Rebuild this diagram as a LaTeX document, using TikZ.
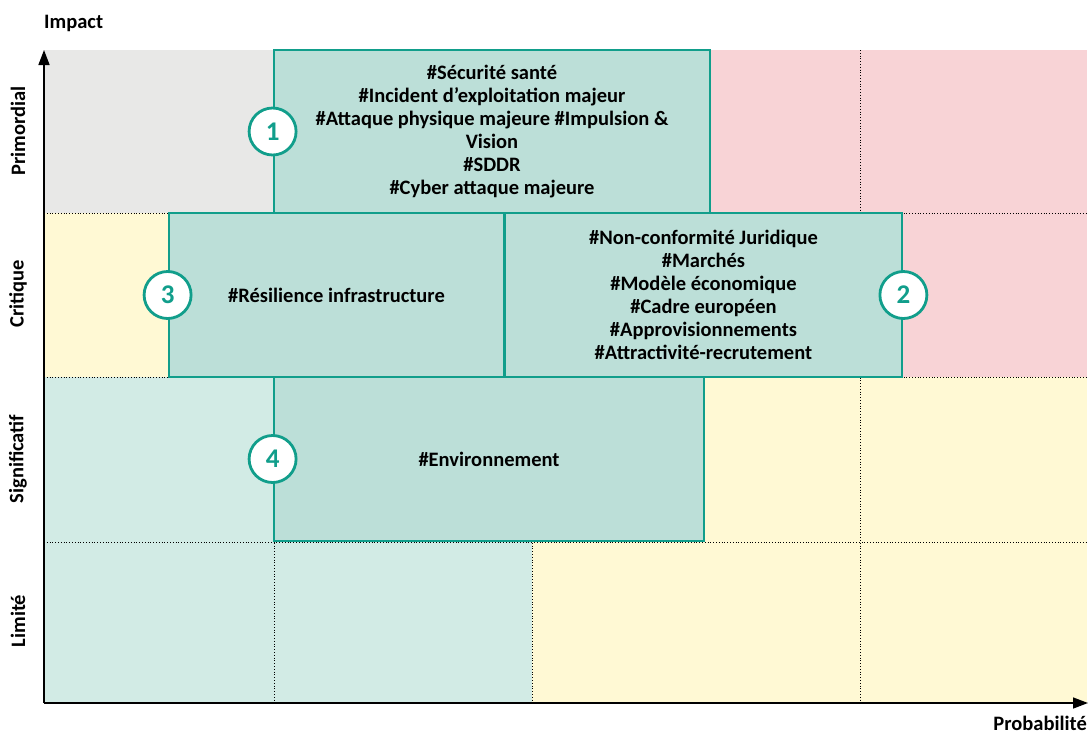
\documentclass[tikz,border=0pt]{standalone}
\usepackage{fontspec}
\setmainfont{Carlito}
\usetikzlibrary{arrows.meta}
\definecolor{greycell}{HTML}{E8E8E7}
\definecolor{pinkcell}{HTML}{F8D3D6}
\definecolor{yellowcell}{HTML}{FFF9D4}
\definecolor{mintcell}{HTML}{D2EBE5}
\definecolor{boxfill}{HTML}{BCDFD8}
\definecolor{riskteal}{HTML}{119E8B}
\tikzset{riskbox/.style={draw=riskteal, line width=2.8pt, fill=boxfill, align=center, inner sep=0pt, font=\bfseries\fontsize{20.5}{23}\selectfont},
badge/.style={circle, draw=riskteal, line width=2.8pt, fill=white, text=riskteal, minimum size=47pt, inner sep=0pt, font=\bfseries\fontsize{27}{27}\selectfont},
%row names on the impact axis
level/.style={rotate=90, font=\bfseries\fontsize{20.5}{20.5}\selectfont},
gridline/.style={dotted, line width=0.8pt},
axis/.style={line width=1.5pt, -{Triangle[length=15pt,width=11pt]}}}

\begin{document}
\begin{tikzpicture}[x=1pt,y=-1pt]
		\useasboundingbox (0,0) rectangle (1090,734);

		\fill[greycell] (44,50) rectangle (532,213);
		\fill[pinkcell] (532,50) rectangle (1087,377);
		\fill[yellowcell] (44,213) rectangle (532,377);
		\fill[mintcell] (44,377) rectangle (532,703);
		\fill[yellowcell] (532,377) rectangle (1087,703);

		\draw[gridline]
		(44,213) -- (1087,213)
		(44,377) -- (1087,377)
		(44,542) -- (1087,542)
		(274,50) -- (274,703)
		(532,50) -- (532,703)
		(860,50) -- (860,703)
		;

		\node[riskbox, minimum width=436pt, minimum height=163pt] (zone1) at (492,131.5)
		{\#Sécurité santé\\ \#Incident d’exploitation majeur\\ \#Attaque physique majeure \#Impulsion \&\\ Vision\\ \#SDDR\\ \#Cyber attaque majeure};
		\node[riskbox, minimum width=335pt, minimum height=164pt] (zone3) at (336.5,295) {\#Résilience infrastructure};
		\node[riskbox, minimum width=397pt, minimum height=164pt] (zone2) at (703.5,295)
		{\#Non-conformité Juridique\\ \#Marchés\\ \#Modèle économique\\ \#Cadre européen\\ \#Approvisionnements\\ \#Attractivité-recrutement};
		\node[riskbox, minimum width=430pt, minimum height=164pt] (zone4) at (489,459) {\#Environnement};

		\node[badge] (num1) at (zone1.west) {1};
		\node[badge] (num2) at (zone2.east) {2};
		\node[badge] (num3) at (zone3.west) {3};
		\node[badge] (num4) at (zone4.west) {4};

		\node[level] (primordial) at (18,131) {Primordial};
		\node[level] (critique) at (18,294) {Critique};
		\node[level] (significatif) at (18,459) {Significatif};
		\node[level] (limite) at (18,621) {Limité};

		\coordinate (origin) at (44,703);
		\coordinate (ytop) at (44,50);
		\coordinate (xend) at (1088,703);
		\draw[axis] (origin) -- (ytop);
		\draw[axis] (origin) -- (xend);

		\node[anchor=base west, inner sep=0pt, font=\bfseries\fontsize{20.5}{20.5}\selectfont] (impact) at (44,28) {Impact};
		\node[anchor=base east, inner sep=0pt, font=\bfseries\fontsize{20.5}{20.5}\selectfont] (proba) at (1087,730) {Probabilité};
	\end{tikzpicture}
\end{document}
